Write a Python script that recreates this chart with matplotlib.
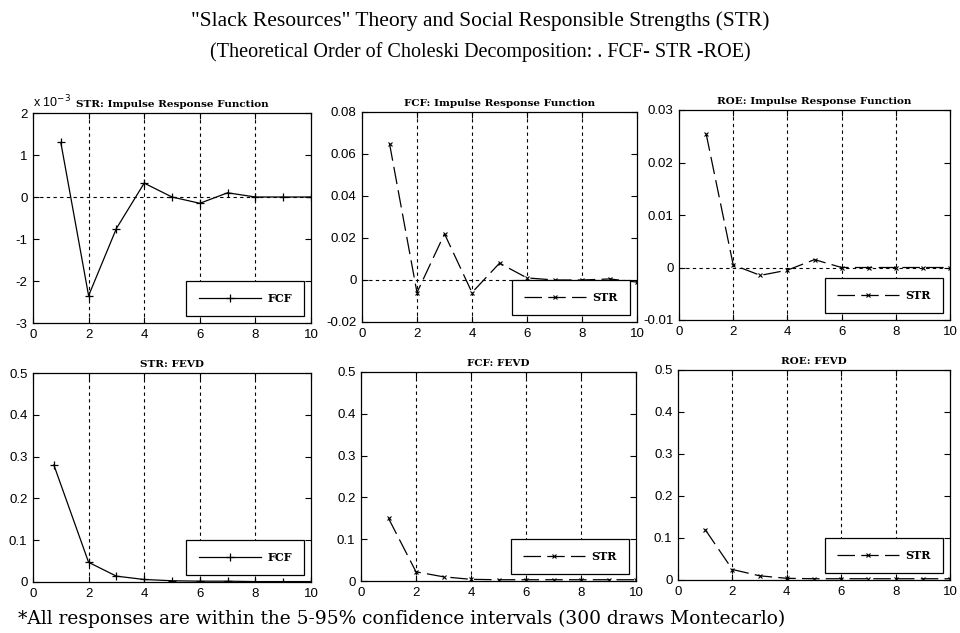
import matplotlib
matplotlib.use('Agg')
import matplotlib.pyplot as plt
from matplotlib.ticker import FuncFormatter

plt.rcParams['font.family'] = 'Liberation Sans'
plt.rcParams['font.size'] = 9

# Horizons
steps = [1, 2, 3, 4, 5, 6, 7, 8, 9, 10]
steps_fevd_str = [0.75, 2, 3, 4, 5, 6, 7, 8, 9, 10]

# Impulse responses
irf_str_fcf = [0.0013, -0.00235, -0.00075, 0.00033, 0.0, -0.00015, 0.0001, 0.0, 0.0, 0.0]
irf_fcf_str = [0.065, -0.006, 0.022, -0.006, 0.008, 0.001, 0.0, 0.0, 0.0005, -0.001]
irf_roe_str = [0.0255, 0.0005, -0.0015, -0.0005, 0.0015, 0.0, 0.0, 0.0, 0.0, 0.0]

# Forecast error variance decompositions
fevd_str_fcf = [0.28, 0.047, 0.014, 0.006, 0.003, 0.002, 0.002, 0.001, 0.001, 0.001]
fevd_fcf_str = [0.15, 0.022, 0.01, 0.004, 0.003, 0.003, 0.003, 0.003, 0.003, 0.003]
fevd_roe_str = [0.12, 0.025, 0.01, 0.004, 0.003, 0.003, 0.003, 0.003, 0.003, 0.003]

W, H = 960, 633
SERIF = 'Liberation Serif'
WIDE_SERIF = 'DejaVu Serif'
DASH = (0, (14, 5))


def px_axes(fig, x0, x1, y0, y1):
    return fig.add_axes([x0 / W, 1 - y1 / H, (x1 - x0) / W, (y1 - y0) / H])


def style_axes(ax, title, ylim, ystep, zero_line):
    ax.set_xlim(0, 10)
    ax.set_ylim(*ylim)
    ax.set_xticks([0, 2, 4, 6, 8, 10])
    n = int(round((ylim[1] - ylim[0]) / ystep))
    ax.set_yticks([ylim[0] + i * ystep for i in range(n + 1)])
    for x in [2, 4, 6, 8]:
        ax.axvline(x, color='black', linestyle=(0, (3, 3)), linewidth=0.8, zorder=1)
    if zero_line:
        ax.axhline(0, color='black', linestyle=(0, (3, 3)), linewidth=0.8, zorder=1)
    ax.tick_params(direction='in', top=True, right=True, length=4, width=0.8,
                   labelsize=9.5, pad=4)
    for s in ax.spines.values():
        s.set_linewidth(0.9)
    ax.set_title(title, fontsize=7.5, fontweight='bold', family=WIDE_SERIF, pad=4)


def add_legend(ax, label):
    leg = ax.legend(loc='lower right', fancybox=False, edgecolor='black', framealpha=1,
                    handlelength=5.6, borderpad=1.1, borderaxespad=0.6, numpoints=1,
                    handletextpad=0.6,
                    prop={'family': WIDE_SERIF, 'weight': 'bold', 'size': 8})
    leg.get_frame().set_linewidth(0.9)


def plot_plus(ax, x, y, label):
    ax.plot(x, y, '-', color='black', linewidth=0.9, marker='+', markersize=6,
            markeredgewidth=0.9, label=label, zorder=3)


def plot_cross(ax, x, y, label):
    ax.plot(x, y, color='black', linestyle=DASH, linewidth=0.9, marker='x', markersize=3,
            markeredgewidth=0.8, label=label, zorder=3)


def num_fmt(digits):
    return FuncFormatter(lambda v, p: f'{v:.{digits}f}' if abs(v) > 1e-9 else '0')


fig = plt.figure(figsize=(9.6, 6.33), dpi=100)

# Top row: impulse responses
ax1 = px_axes(fig, 33, 311, 113, 323)
plot_plus(ax1, steps, irf_str_fcf, 'FCF')
style_axes(ax1, 'STR: Impulse Response Function', (-0.003, 0.002), 0.001, True)
ax1.yaxis.set_major_formatter(FuncFormatter(lambda v, p: f'{round(v * 1000):g}'))
ax1.text(0.0, 1.015, r'x 10$^{-3}$', transform=ax1.transAxes, fontsize=9,
         ha='left', va='bottom')
add_legend(ax1, 'FCF')

ax2 = px_axes(fig, 362, 637, 112, 322)
plot_cross(ax2, steps, irf_fcf_str, 'STR')
style_axes(ax2, 'FCF: Impulse Response Function', (-0.02, 0.08), 0.02, True)
ax2.yaxis.set_major_formatter(num_fmt(2))
add_legend(ax2, 'STR')

ax3 = px_axes(fig, 679, 950, 110, 320)
plot_cross(ax3, steps, irf_roe_str, 'STR')
style_axes(ax3, 'ROE: Impulse Response Function', (-0.01, 0.03), 0.01, True)
ax3.yaxis.set_major_formatter(num_fmt(2))
add_legend(ax3, 'STR')

# Bottom row: variance decompositions
ax4 = px_axes(fig, 33, 311, 373, 582)
plot_plus(ax4, steps_fevd_str, fevd_str_fcf, 'FCF')
style_axes(ax4, 'STR: FEVD', (0, 0.5), 0.1, False)
ax4.yaxis.set_major_formatter(num_fmt(1))
add_legend(ax4, 'FCF')

ax5 = px_axes(fig, 361, 636, 372, 581)
plot_cross(ax5, steps, fevd_fcf_str, 'STR')
style_axes(ax5, 'FCF: FEVD', (0, 0.5), 0.1, False)
ax5.yaxis.set_major_formatter(num_fmt(1))
add_legend(ax5, 'STR')

ax6 = px_axes(fig, 678, 950, 370, 580)
plot_cross(ax6, steps, fevd_roe_str, 'STR')
style_axes(ax6, 'ROE: FEVD', (0, 0.5), 0.1, False)
ax6.yaxis.set_major_formatter(num_fmt(1))
add_legend(ax6, 'STR')

fig.text(0.5, 1 - 21 / H, '"Slack Resources" Theory and Social Responsible Strengths (STR)',
         ha='center', va='center', family=SERIF, fontsize=15.5)
fig.text(0.5, 1 - 52 / H, '(Theoretical Order of Choleski Decomposition: . FCF- STR -ROE)',
         ha='center', va='center', family=SERIF, fontsize=14.5)
fig.text(18 / W, 1 - 619 / H,
         '*All responses are within the 5-95% confidence intervals (300 draws Montecarlo)',
         ha='left', va='center', family=WIDE_SERIF, fontsize=13.4)

fig.savefig('out.png', dpi=100, facecolor='white')
